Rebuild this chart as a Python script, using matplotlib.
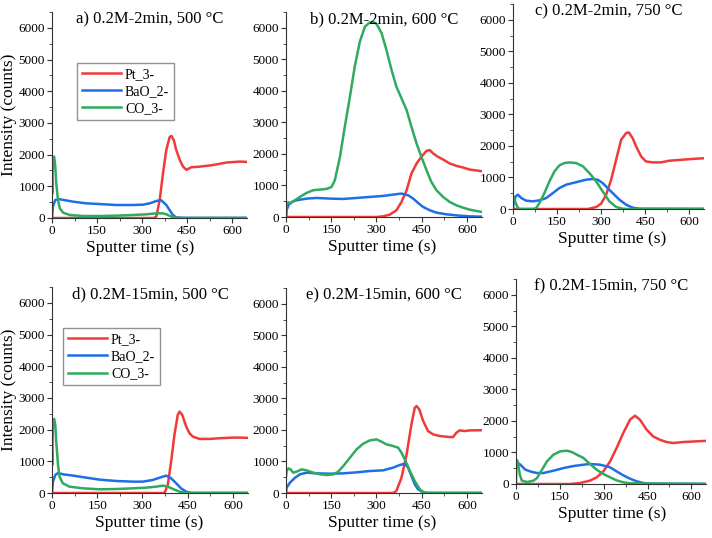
import numpy as np
import matplotlib
matplotlib.use("Agg")
import matplotlib.pyplot as plt
from matplotlib.ticker import MultipleLocator

plt.rcParams['font.family'] = ['Liberation Serif', 'DejaVu Serif']

RED = '#f03a3a'
BLUE = '#1e6ee6'
GREEN = '#2faa5f'

# ---- panel a) 0.2M-2min, 500 C
a_pt_t = [0, 340, 348, 359, 370, 381, 392, 398, 406, 414, 426, 437, 448, 464, 492, 537, 581, 626, 650]
a_pt = [0, 0, 50, 570, 1410, 2150, 2550, 2590, 2460, 2150, 1830, 1620, 1520, 1600, 1620, 1670, 1750, 1780, 1770]
a_bao_t = [0, 3, 11, 26, 70, 114, 159, 214, 270, 303, 326, 348, 364, 381, 392, 403, 414, 440, 650]
a_bao = [0, 360, 570, 590, 516, 463, 440, 410, 410, 420, 463, 537, 560, 410, 250, 95, 20, 5, 5]
a_co_t = [0, 1, 3, 7, 11, 14, 20, 26, 37, 59, 103, 159, 214, 270, 314, 348, 370, 387, 403, 420, 650]
a_co = [1200, 780, 1830, 1940, 1620, 1100, 570, 305, 170, 95, 63, 63, 74, 95, 116, 147, 147, 95, 20, 0, 0]

# ---- panel b) 0.2M-2min, 600 C
b_pt_t = [0, 300, 322, 344, 366, 383, 400, 416, 433, 449, 466, 477, 488, 504, 521, 543, 565, 587, 609, 650]
b_pt = [0, 0, 21, 74, 212, 477, 848, 1378, 1696, 1908, 2099, 2120, 2014, 1908, 1823, 1696, 1622, 1569, 1505, 1450]
b_bao_t = [0, 2, 8, 19, 35, 68, 102, 146, 190, 234, 278, 322, 355, 383, 405, 422, 438, 455, 477, 499, 532, 576, 609, 650]
b_bao = [0, 212, 371, 477, 530, 583, 604, 583, 572, 604, 636, 668, 710, 742, 689, 583, 445, 318, 212, 138, 85, 42, 21, 10]
b_co_t = [0, 2, 8, 13, 24, 46, 68, 90, 113, 135, 151, 162, 179, 195, 212, 228, 245, 262, 278, 289, 300,
          317, 333, 350, 366, 383, 400, 416, 433, 449, 466, 482, 499, 521, 543, 565, 587, 609, 650]
b_co = [0, 424, 466, 424, 498, 636, 763, 848, 870, 890, 954, 1166, 1908, 2862, 3816, 4770, 5565, 6042, 6170, 6190, 6127,
        5830, 5300, 4664, 4134, 3763, 3392, 2862, 2332, 1908, 1484, 1113, 848, 636, 477, 371, 297, 233, 160]

# ---- panel c) 0.2M-2min, 750 C
c_pt_t = [0, 255, 283, 300, 317, 334, 351, 368, 385, 394, 407, 419, 436, 452, 475, 503, 532, 577, 622, 664]
c_pt = [0, 0, 63, 169, 454, 929, 1563, 2196, 2408, 2429, 2249, 1985, 1668, 1510, 1478, 1478, 1531, 1563, 1594, 1616]
c_bao_t = [0, 2, 9, 17, 28, 45, 68, 90, 113, 136, 158, 181, 204, 226, 249, 271, 288, 305, 322, 339, 362, 385, 407, 430, 664]
c_bao = [0, 190, 401, 454, 348, 264, 243, 275, 348, 507, 665, 771, 824, 876, 929, 950, 929, 824, 665, 507, 296, 137, 42, 10, 5]
c_co_t = [0, 2, 9, 17, 24, 70, 79, 90, 107, 124, 141, 158, 175, 192, 215, 238, 260, 283, 305, 328, 351, 373, 390, 664]
c_co = [420, 380, 190, 32, 0, 0, 32, 190, 507, 876, 1193, 1383, 1457, 1478, 1457, 1352, 1140, 876, 560, 243, 63, 10, 0, 0]

# ---- panel d) 0.2M-15min, 500 C
d_pt_t = [0, 373, 384, 395, 406, 417, 423, 432, 445, 456, 467, 489, 522, 555, 599, 621, 650]
d_pt = [0, 0, 253, 990, 1832, 2464, 2569, 2464, 2095, 1885, 1780, 1706, 1706, 1727, 1748, 1748, 1740]
d_bao_t = [0, 3, 11, 20, 36, 70, 114, 158, 213, 268, 301, 334, 357, 379, 395, 412, 428, 445, 460, 650]
d_bao = [0, 358, 569, 632, 590, 548, 484, 421, 379, 358, 358, 411, 484, 548, 463, 305, 147, 42, 5, 5]
d_co_t = [0, 1, 3, 7, 11, 14, 20, 25, 36, 58, 103, 158, 213, 268, 312, 345, 368, 384, 401, 423, 445, 650]
d_co = [1300, 885, 2148, 2337, 2148, 1621, 885, 516, 305, 200, 147, 116, 126, 147, 168, 200, 232, 200, 126, 42, 0, 0]

# ---- panel e) 0.2M-15min, 600 C
e_pt_t = [0, 355, 366, 383, 400, 416, 427, 433, 442, 455, 471, 488, 510, 543, 554, 565, 576, 593, 609, 650]
e_pt = [0, 0, 63, 486, 1225, 2175, 2703, 2756, 2651, 2281, 1964, 1858, 1806, 1774, 1774, 1911, 1985, 1964, 1985, 1990]
e_bao_t = [0, 2, 13, 30, 46, 68, 102, 146, 190, 234, 278, 322, 355, 377, 394, 405, 416, 427, 438, 455, 470, 650]
e_bao = [0, 169, 327, 486, 591, 644, 623, 612, 623, 655, 697, 718, 803, 887, 929, 803, 539, 275, 116, 21, 5, 5]
e_co_t = [0, 2, 8, 15, 24, 35, 52, 68, 91, 113, 135, 157, 173, 190, 212, 234, 256, 278, 300,
          317, 333, 355, 372, 383, 394, 411, 427, 444, 460, 650]
e_co = [500, 697, 781, 750, 644, 676, 750, 718, 644, 591, 570, 591, 676, 855, 1119, 1383, 1563, 1668, 1700,
        1626, 1542, 1489, 1436, 1278, 1067, 697, 380, 116, 0, 0]

# ---- panel f) 0.2M-15min, 750 C
f_pt_t = [0, 185, 219, 253, 276, 299, 322, 344, 367, 390, 407, 424, 447, 469, 492, 515, 538, 572, 617, 660]
f_pt = [0, 0, 32, 106, 211, 401, 718, 1140, 1616, 2038, 2165, 2038, 1721, 1510, 1404, 1331, 1299, 1331, 1352, 1373]
f_bao_t = [0, 1, 6, 15, 32, 55, 72, 94, 128, 163, 197, 231, 253, 288, 322, 344, 367, 390, 413, 435, 458, 660]
f_bao = [0, 718, 665, 612, 454, 380, 348, 348, 422, 507, 570, 612, 634, 612, 528, 401, 275, 169, 84, 32, 10, 5]
f_co_t = [0, 1, 6, 13, 20, 38, 60, 72, 89, 106, 128, 151, 174, 191, 208, 231, 253, 276, 299, 322, 344, 367, 390, 660]
f_co = [500, 771, 718, 296, 106, 63, 106, 190, 454, 718, 929, 1035, 1056, 1014, 929, 824, 634, 454, 317, 211, 116, 53, 21, 0]

titles = ['a) 0.2M-2min, 500 \u00b0C', 'b) 0.2M-2min, 600 \u00b0C', 'c) 0.2M-2min, 750 \u00b0C',
          'd) 0.2M-15min, 500 \u00b0C', 'e) 0.2M-15min, 600 \u00b0C', 'f) 0.2M-15min, 750 \u00b0C']
series_names = ['Pt_3-', 'BaO_2-', 'CO_3-']
x_ticks = [0, 150, 300, 450, 600]

panels = [
    (a_pt_t, a_pt, a_bao_t, a_bao, a_co_t, a_co),
    (b_pt_t, b_pt, b_bao_t, b_bao, b_co_t, b_co),
    (c_pt_t, c_pt, c_bao_t, c_bao, c_co_t, c_co),
    (d_pt_t, d_pt, d_bao_t, d_bao, d_co_t, d_co),
    (e_pt_t, e_pt, e_bao_t, e_bao, e_co_t, e_co),
    (f_pt_t, f_pt, f_bao_t, f_bao, f_co_t, f_co),
]

# axes boxes in pixels: left, top, right, bottom
W, H = 712, 538
boxes = [(52, 12, 247, 218), (286, 12, 482, 217), (513, 4, 704, 209),
         (52, 287, 248, 493), (286, 288, 482, 493), (516, 279, 706, 484)]
xlabel_x = [0.45, 0.49, 0.52, 0.495, 0.49, 0.505]
legend_at = {0: (0.128, 0.752), 3: (0.056, 0.80)}

fig = plt.figure(figsize=(7.12, 5.38), dpi=100)

for i, (box, data) in enumerate(zip(boxes, panels)):
    l, t, r, b = box
    ax = fig.add_axes([l / W, 1 - b / H, (r - l) / W, (b - t) / H])
    for (xs, ys), col, name in zip([(data[0], data[1]), (data[2], data[3]), (data[4], data[5])],
                                   [RED, BLUE, GREEN], series_names):
        ax.plot(xs, ys, color=col, lw=1.8, label=name, solid_joinstyle='round')
    ax.set_xlim(0, 650)
    ax.set_ylim(0, 6500)
    ax.set_xticks(x_ticks)
    ax.set_yticks(range(0, 6001, 1000))
    ax.xaxis.set_minor_locator(MultipleLocator(75))
    ax.yaxis.set_minor_locator(MultipleLocator(500))
    for s in ['top', 'right']:
        ax.spines[s].set_visible(False)
    for s in ['left', 'bottom']:
        ax.spines[s].set_linewidth(0.8)
        ax.spines[s].set_color('#333333')
    ax.tick_params(which='major', direction='out', length=3.5, width=0.8, labelsize=9.5, pad=1.5, colors='#333333')
    ax.tick_params(which='minor', direction='out', length=2, width=0.6, colors='#333333')
    ax.tick_params(labelcolor='black')
    ax.set_xlabel('Sputter time (s)', fontsize=12.5)
    ax.xaxis.set_label_coords(xlabel_x[i], -0.105)
    if i in (0, 3):
        ax.set_ylabel('Intensity (counts)', fontsize=12.5, labelpad=1)
    ax.text(0.5, 1.005, titles[i], transform=ax.transAxes, ha='center', va='top', fontsize=12)
    if i in legend_at:
        leg = ax.legend(loc='upper left', bbox_to_anchor=legend_at[i], borderaxespad=0,
                        fancybox=False, edgecolor='#777777', fontsize=10, handlelength=2.8,
                        labelspacing=0.3, handletextpad=0.3, borderpad=0.35)
        leg.get_frame().set_linewidth(1.0)

fig.savefig('out.png', dpi=100)
